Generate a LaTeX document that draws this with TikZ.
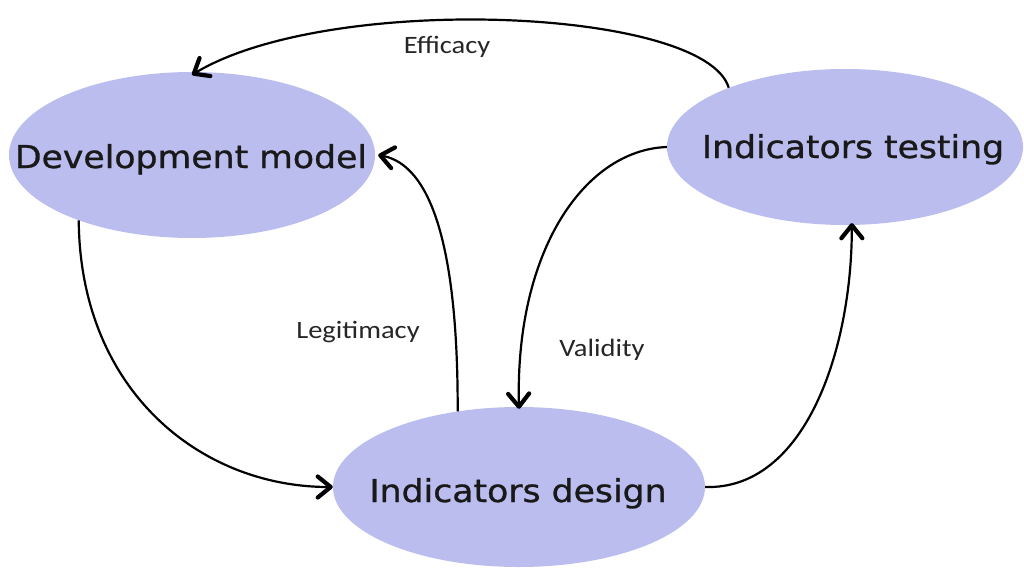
\documentclass[tikz,border=0pt]{standalone}
\usepackage{fontspec}
\usepackage{graphicx}
\usetikzlibrary{shapes.geometric,arrows.meta}
\newfontfamily\nodefont[FakeBold=0.9]{DejaVu Sans}
\newfontfamily\labfont{Carlito}
\definecolor{ellfill}{RGB}{186,189,238}
\newcommand{\bigtxt}[1]{\scalebox{1.1}[1]{\nodefont\fontsize{31.5}{36}\selectfont #1}}
\newcommand{\labtxt}[1]{\scalebox{1.14}[1]{\labfont\fontsize{25}{30}\selectfont #1}}
\begin{document}
\begin{tikzpicture}[x=1pt,y=-1pt,
  blob/.style={ellipse, fill=ellfill, draw=none, inner sep=0pt},
  maintext/.style={anchor=base, inner sep=0pt, text=black!90},
  lab/.style={anchor=base, inner sep=0pt, text=black!85},
  conn/.style={line width=2.2pt, black, -{Straight Barb[length=13pt,width=21pt,line width=4.2pt,round]}}]
\useasboundingbox (0,0) rectangle (1024,567);
\node[blob, minimum width=366pt, minimum height=166pt] (dev) at (192,155) {};
\node[blob, minimum width=356pt, minimum height=156pt] (test) at (845,147) {};
\node[blob, minimum width=372pt, minimum height=160pt] (design) at (519,487) {};
\node[maintext] (devt) at (191,168) {\bigtxt{Development model}};
\node[maintext] (testt) at (853,158) {\bigtxt{Indicators testing}};
\node[maintext] (designt) at (518,502) {\bigtxt{Indicators design}};
% connectors
\draw[conn] (test.153) .. controls (705,8) and (330,-8) .. ([yshift=-3pt]dev.north);
\draw[conn] (design.129) .. controls (458,250) and (432,165) .. ([xshift=3pt]dev.east);
\draw[conn] (test.west) .. controls (585,150) and (515,250) .. ([yshift=-2pt]design.north);
\draw[conn] (dev.210) .. controls (80,390) and (200,487) .. (design.west);
\draw[conn] (design.east) .. controls (805,490) and (852,350) .. ([yshift=2pt]test.275);
% labels
\node[lab] (eff) at (447,54) {\labtxt{Efficacy}};
\node[lab] (leg) at (358,338) {\labtxt{Legitimacy}};
\node[lab] (val) at (602,356) {\labtxt{Validity}};
\end{tikzpicture}
\end{document}
